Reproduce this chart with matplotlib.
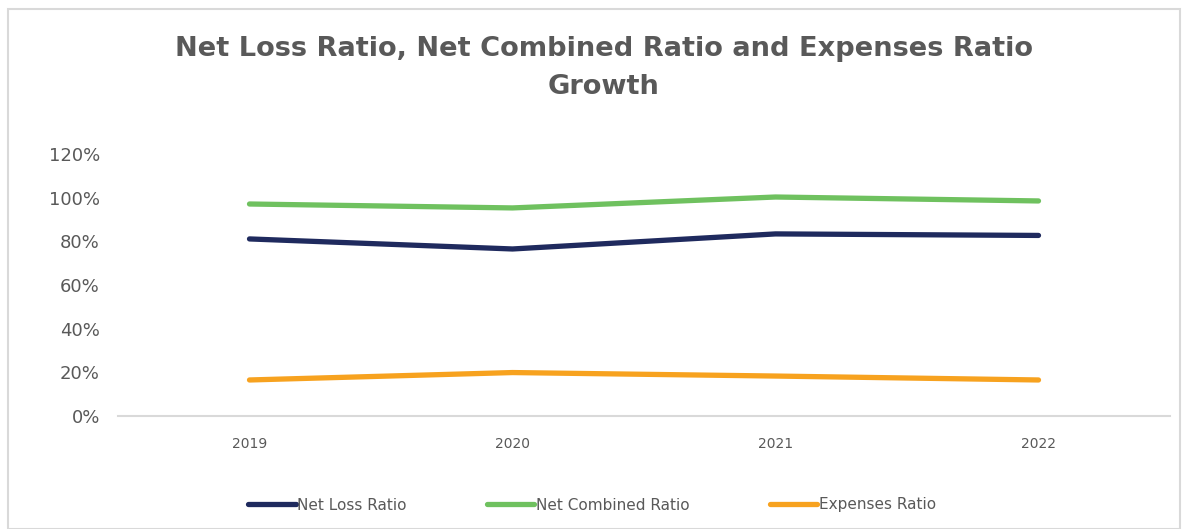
import matplotlib.pyplot as plt
from matplotlib.patches import Rectangle
from matplotlib.ticker import PercentFormatter

years = ["2019", "2020", "2021", "2022"]
net_loss = [81.1, 76.5, 83.4, 82.7]
net_combined = [97.1, 95.3, 100.3, 98.5]
expenses = [16.5, 19.9, 18.3, 16.5]

plt.rcParams['font.family'] = ['DejaVu Sans']

fig = plt.figure(figsize=(11.89, 5.29), dpi=100)
# outer chart frame
fig.patches.append(Rectangle((8/1189, 0.0), 1172/1189, 1 - 9/529, transform=fig.transFigure,
                             fill=False, edgecolor='#D9D9D9', linewidth=1.5))

ax = fig.add_axes([118/1189, 1 - 416/529, (1170 - 118)/1189, (416 - 154)/529])
x = range(len(years))
ax.plot(x, net_loss, color='#1F2A5E', linewidth=3.8, solid_capstyle='round', label='Net Loss Ratio')
ax.plot(x, net_combined, color='#6FC15F', linewidth=3.8, solid_capstyle='round', label='Net Combined Ratio')
ax.plot(x, expenses, color='#F7A21F', linewidth=3.8, solid_capstyle='round', label='Expenses Ratio')

ax.set_xlim(-0.5, 3.5)
ax.set_ylim(0, 120)
ax.set_yticks(range(0, 121, 20))
ax.yaxis.set_major_formatter(PercentFormatter(decimals=0))
ax.set_xticks(list(x))
ax.set_xticklabels(years)
for s in ['top', 'right', 'left']:
    ax.spines[s].set_visible(False)
ax.spines['bottom'].set_color('#D9D9D9')
ax.spines['bottom'].set_linewidth(1.5)
ax.tick_params(axis='y', length=0, labelsize=13, labelcolor='#595959', pad=13)
ax.tick_params(axis='x', length=0, labelsize=10, labelcolor='#595959', pad=15)

fig.text(604/1189, 1 - 68/529, "Net Loss Ratio, Net Combined Ratio and Expenses Ratio\nGrowth",
         ha='center', va='center', fontsize=19.6, fontweight='bold', color='#595959',
         linespacing=1.65)

fig.legend(loc='center', bbox_to_anchor=(592/1189, 1 - 505/529), ncol=3, frameon=False,
           fontsize=11, labelcolor='#595959', handlelength=3.1, handletextpad=0.1,
           columnspacing=5.25)

fig.savefig('out.png', dpi=100)
